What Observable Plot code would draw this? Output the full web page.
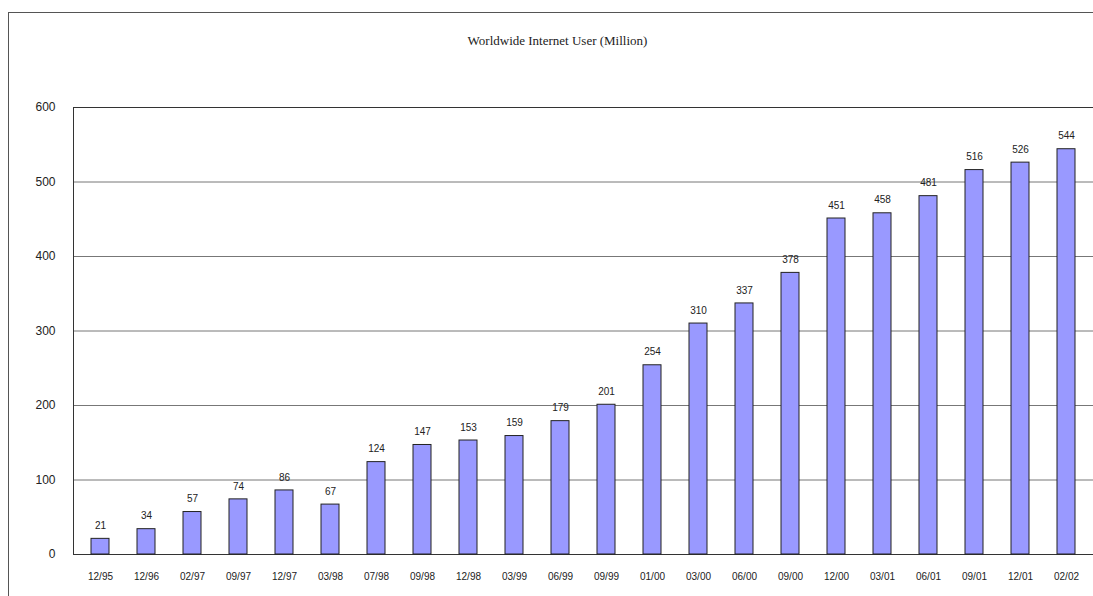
<!DOCTYPE html>
<html>
<head>
<meta charset="utf-8">
<script src="https://cdn.jsdelivr.net/npm/d3@7"></script>
<script src="https://cdn.jsdelivr.net/npm/@observablehq/plot@0.6"></script>
<style>
  html, body { margin: 0; padding: 0; background: #fff; overflow: hidden; }
  #wrap { position: relative; width: 1093px; height: 596px; }
  #border { position: absolute; left: 8px; top: 12px; width: 1090px; height: 590px;
            border-left: 1px solid #555; border-top: 1px solid #555; }
  #title { position: absolute; top: 33px; left: 0; width: 1115px; text-align: center;
           font-family: "Liberation Serif", "DejaVu Serif", serif; font-size: 13px; color: #222; }
  #chart { position: absolute; left: 0; top: 0; }
</style>
</head>
<body>
<div id="wrap">
  <div id="border"></div>
  <div id="title">Worldwide Internet User (Million)</div>
  <div id="chart"></div>
</div>
<script>
// Survey dates (month/year) and worldwide internet users, in millions
const periods = ["12/95","12/96","02/97","09/97","12/97","03/98","07/98","09/98","12/98","03/99","06/99",
                 "09/99","01/00","03/00","06/00","09/00","12/00","03/01","06/01","09/01","12/01","02/02"];
const users = [21, 34, 57, 74, 86, 67, 124, 147, 153, 159, 179,
               201, 254, 310, 337, 378, 451, 458, 481, 516, 526, 544];
const yTicks = [0, 100, 200, 300, 400, 500, 600];

const data = periods.map((p, i) => ({period: p, users: users[i]}));

const chart = Plot.plot({
  width: 1093,
  height: 596,
  marginTop: 107,
  marginBottom: 42,
  marginLeft: 73,
  marginRight: 0,
  style: {fontFamily: "'Liberation Sans', Arial, sans-serif", background: "transparent", color: "#222"},
  x: {domain: periods, paddingInner: 0.6, paddingOuter: 0.3, align: 0.5, label: null},
  y: {domain: [0, 600], label: null},
  marks: [
    Plot.ruleY(yTicks.slice(1, -1), {stroke: "#777", strokeWidth: 1}),
    Plot.frame({stroke: "#333", strokeWidth: 1}),
    Plot.barY(data, {x: "period", y: "users", fill: "#9999ff", stroke: "#222", strokeWidth: 1}),
    Plot.text(data, {x: "period", y: "users", text: d => String(d.users), dy: -13, fontSize: 10, fill: "#222"}),
    Plot.axisY({ticks: yTicks, tickSize: 0, tickPadding: 18, fontSize: 12, label: null}),
    Plot.axisX({tickSize: 0, tickPadding: 18, fontSize: 10, label: null})
  ]
});
document.getElementById("chart").appendChild(chart);
</script>
</body>
</html>
